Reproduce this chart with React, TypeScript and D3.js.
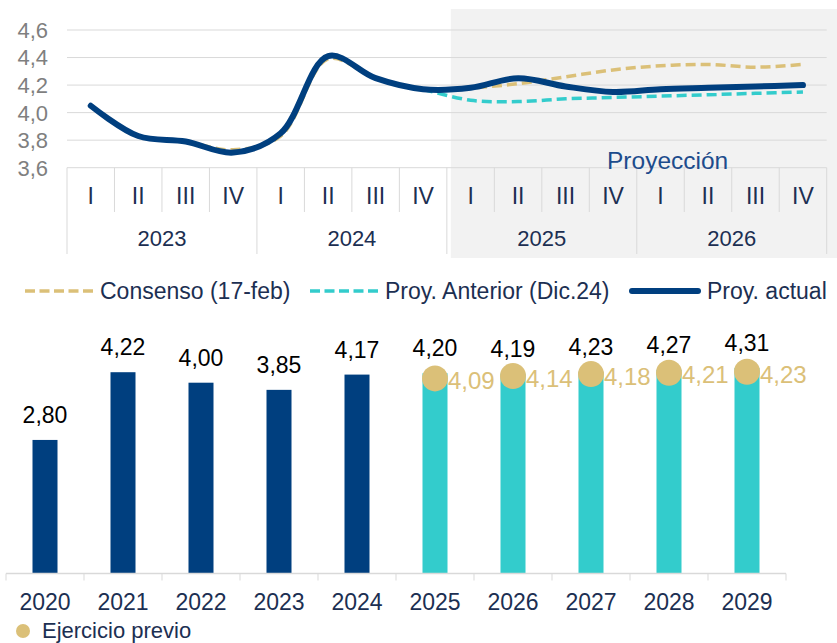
import React, { useEffect, useRef } from 'react';
import * as d3 from 'd3';

// Top chart: quarterly series
const years = ['2023', '2024', '2025', '2026'];
const quarters = ['I', 'II', 'III', 'IV'];
const consenso = [4.05, 3.83, 3.79, 3.73, 3.83, 4.39, 4.25, 4.17, 4.18, 4.21, 4.26, 4.31, 4.34, 4.35, 4.33, 4.35];
const anterior = [null, null, null, null, null, null, null, 4.17, 4.09, 4.08, 4.10, 4.11, 4.12, 4.13, 4.14, 4.15];
const actual = [4.05, 3.83, 3.79, 3.71, 3.85, 4.41, 4.25, 4.17, 4.18, 4.25, 4.19, 4.15, 4.17, 4.18, 4.19, 4.20];
const yTicks = [3.6, 3.8, 4.0, 4.2, 4.4, 4.6];

// Bottom chart: annual series
const barYears = ['2020', '2021', '2022', '2023', '2024', '2025', '2026', '2027', '2028', '2029'];
const barValues = [2.80, 4.22, 4.00, 3.85, 4.17, 4.20, 4.19, 4.23, 4.27, 4.31];
const previo = [null, null, null, null, null, 4.09, 4.14, 4.18, 4.21, 4.23];
const firstProjected = 5;

const NAVY = '#003f7f';
const CYAN = '#33cccc';
const TAN = '#dbc078';
const TEXT = '#1c2f52';
const GRID = '#d9d9d9';
const FONT = '"Liberation Sans", Arial, sans-serif';

const es = d3.formatLocale({ decimal: ',', thousands: '.', grouping: [3], currency: ['', '€'] });
const f1 = es.format('.1f');
const f2 = es.format('.2f');

const App = () => {
  const svgRef = useRef<SVGSVGElement>(null);

  useEffect(() => {
    const svg = d3.select(svgRef.current);
    svg.selectAll('*').remove();
    svg.style('font-family', FONT);

    // ---------- top chart ----------
    const labels = years.flatMap(() => quarters);
    const x = d3.scaleBand<number>()
      .domain(d3.range(labels.length))
      .range([67, 826.7]);
    const y = d3.scaleLinear().domain([3.6, 4.6]).range([167.7, 30]);
    const cx = (i: number) => (x(i) as number) + x.bandwidth() / 2;

    // projection shade
    svg.append('rect')
      .attr('x', (x(8) as number) + 4)
      .attr('y', 9)
      .attr('width', 837 - (x(8) as number) - 4)
      .attr('height', 249)
      .attr('fill', '#f2f2f2');

    const top = svg.append('g');
    top.selectAll('.grid')
      .data(yTicks)
      .enter().append('line')
      .attr('x1', 67).attr('x2', 826.7)
      .attr('y1', d => y(d)).attr('y2', d => y(d))
      .attr('stroke', GRID).attr('stroke-width', 1);

    top.selectAll('.ylab')
      .data(yTicks)
      .enter().append('text')
      .attr('x', 48).attr('y', d => y(d))
      .attr('dy', '0.36em')
      .attr('text-anchor', 'end')
      .attr('font-size', 22)
      .attr('fill', '#7f7f7f')
      .text(d => f1(d));

    // category axis separators
    const seps = d3.range(labels.length + 1);
    top.selectAll('.sep')
      .data(seps)
      .enter().append('line')
      .attr('x1', i => i < labels.length ? (x(i) as number) : x.range()[1])
      .attr('x2', i => i < labels.length ? (x(i) as number) : x.range()[1])
      .attr('y1', y(3.6))
      .attr('y2', i => (i % 4 === 0 ? 254 : 212))
      .attr('stroke', GRID).attr('stroke-width', 1);

    top.selectAll('.qlab')
      .data(labels)
      .enter().append('text')
      .attr('x', (_, i) => cx(i))
      .attr('y', 204)
      .attr('text-anchor', 'middle')
      .attr('font-size', 23)
      .attr('fill', TEXT)
      .text(d => d);

    top.selectAll('.year')
      .data(years)
      .enter().append('text')
      .attr('x', (_, i) => ((x(i * 4) as number) + (i * 4 + 4 < labels.length ? (x(i * 4 + 4) as number) : x.range()[1])) / 2)
      .attr('y', 246)
      .attr('text-anchor', 'middle')
      .attr('font-size', 22)
      .attr('fill', TEXT)
      .text(d => d);

    top.append('text')
      .attr('x', 607).attr('y', 169)
      .attr('font-size', 24.5)
      .attr('fill', '#1d4c8c')
      .text('Proyección');

    const line = d3.line<number | null>()
      .defined(d => d !== null)
      .x((_, i) => cx(i))
      .y(d => y(d as number))
      .curve(d3.curveCatmullRom.alpha(0.5));

    top.append('path')
      .attr('d', line(consenso))
      .attr('fill', 'none').attr('stroke', TAN)
      .attr('stroke-width', 3.5).attr('stroke-dasharray', '10,5');
    top.append('path')
      .attr('d', line(anterior))
      .attr('fill', 'none').attr('stroke', CYAN)
      .attr('stroke-width', 3.5).attr('stroke-dasharray', '10,5');
    top.append('path')
      .attr('d', line(actual))
      .attr('fill', 'none').attr('stroke', NAVY)
      .attr('stroke-width', 6).attr('stroke-linecap', 'round');

    // legend
    const legend = [
      { label: 'Consenso (17-feb)', color: TAN, dash: '10,4.5', w: 3.5, x0: 25, x1: 93, tx: 100 },
      { label: 'Proy. Anterior (Dic.24)', color: CYAN, dash: '10,4.5', w: 3.5, x0: 310, x1: 378, tx: 385 },
      { label: 'Proy. actual', color: NAVY, dash: null, w: 6, x0: 632, x1: 698, tx: 707 },
    ];
    const lg = svg.append('g');
    legend.forEach(l => {
      lg.append('line')
        .attr('x1', l.x0).attr('x2', l.x1)
        .attr('y1', 291).attr('y2', 291)
        .attr('stroke', l.color).attr('stroke-width', l.w)
        .attr('stroke-linecap', l.dash ? 'butt' : 'round')
        .attr('stroke-dasharray', l.dash);
      lg.append('text')
        .attr('x', l.tx).attr('y', 299)
        .attr('font-size', 23)
        .attr('fill', TEXT)
        .text(l.label);
    });

    // ---------- bottom chart ----------
    const xb = d3.scaleBand<string>().domain(barYears).range([6, 786]);
    const yb = d3.scaleLinear().domain([0, 5]).range([573.5, 335]);
    const bw = 25;
    const bc = (d: string) => (xb(d) as number) + xb.bandwidth() / 2;

    const bottom = svg.append('g');
    bottom.selectAll('.bar')
      .data(barValues)
      .enter().append('rect')
      .attr('x', (_, i) => bc(barYears[i]) - bw / 2)
      .attr('y', d => yb(d))
      .attr('width', bw)
      .attr('height', d => yb(0) - yb(d))
      .attr('fill', (_, i) => (i >= firstProjected ? CYAN : NAVY));

    bottom.append('line')
      .attr('x1', 6).attr('x2', 786)
      .attr('y1', yb(0)).attr('y2', yb(0))
      .attr('stroke', GRID).attr('stroke-width', 1.5);

    bottom.selectAll('.tick')
      .data(d3.range(barYears.length + 1))
      .enter().append('line')
      .attr('x1', i => 6 + i * xb.step())
      .attr('x2', i => 6 + i * xb.step())
      .attr('y1', yb(0)).attr('y2', yb(0) + 7)
      .attr('stroke', GRID).attr('stroke-width', 1);

    bottom.selectAll('.xlab')
      .data(barYears)
      .enter().append('text')
      .attr('x', d => bc(d))
      .attr('y', 610)
      .attr('text-anchor', 'middle')
      .attr('font-size', 23)
      .attr('fill', TEXT)
      .text(d => d);

    bottom.selectAll('.vlab')
      .data(barValues)
      .enter().append('text')
      .attr('x', (_, i) => bc(barYears[i]))
      .attr('y', d => yb(d) - 17)
      .attr('text-anchor', 'middle')
      .attr('font-size', 23)
      .attr('fill', '#000')
      .text(d => f2(d));

    const prevData = previo
      .map((v, i) => ({ v, year: barYears[i] }))
      .filter(d => d.v !== null) as { v: number; year: string }[];

    bottom.selectAll('.dot')
      .data(prevData)
      .enter().append('circle')
      .attr('cx', d => bc(d.year))
      .attr('cy', d => yb(d.v))
      .attr('r', 13)
      .attr('fill', TAN);

    bottom.selectAll('.plab')
      .data(prevData)
      .enter().append('text')
      .attr('x', d => bc(d.year) + 13)
      .attr('y', d => yb(d.v))
      .attr('dy', '0.45em')
      .attr('font-size', 24)
      .attr('fill', TAN)
      .text(d => f2(d.v));

    // legend bottom
    bottom.append('circle')
      .attr('cx', 23).attr('cy', 631).attr('r', 7)
      .attr('fill', TAN);
    bottom.append('text')
      .attr('x', 42).attr('y', 638)
      .attr('font-size', 22)
      .attr('fill', TEXT)
      .text('Ejercicio previo');
  }, []);

  return (
    <svg
      ref={svgRef}
      width={837}
      height={643}
      style={{ position: 'absolute', left: 0, top: 0, background: '#fff' }}
    />
  );
};

export default App;
